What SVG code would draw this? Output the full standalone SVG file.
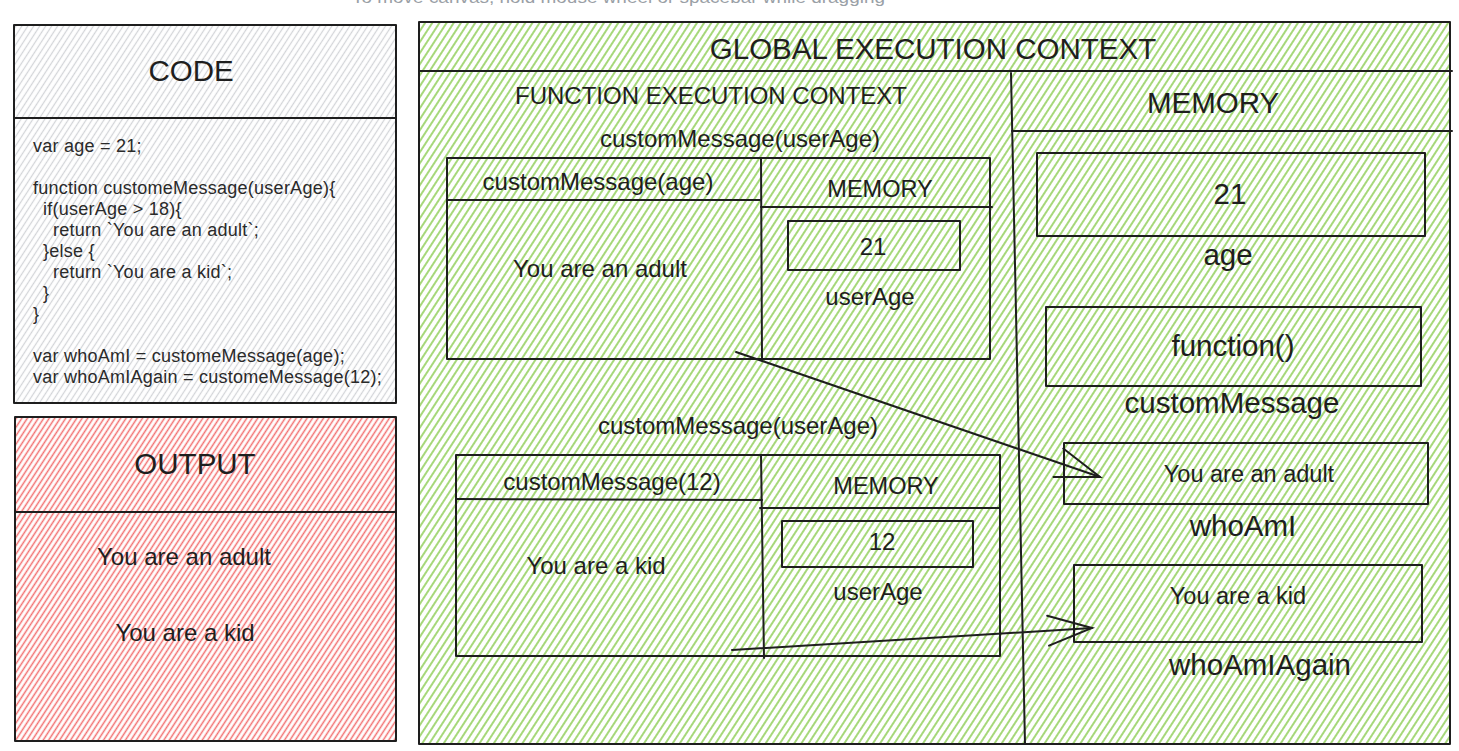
<svg xmlns="http://www.w3.org/2000/svg" width="1459" height="751" viewBox="0 0 1459 751">
<defs>
<pattern id="hg" patternUnits="userSpaceOnUse" width="6" height="10" patternTransform="rotate(33)"><line x1="3" y1="-1" x2="3" y2="11" stroke="#97d163" stroke-width="1.7"/></pattern>
<pattern id="hr" patternUnits="userSpaceOnUse" width="4.6" height="10" patternTransform="rotate(33)"><line x1="2.3" y1="-1" x2="2.3" y2="11" stroke="#f27070" stroke-width="1.5"/></pattern>
<pattern id="hk" patternUnits="userSpaceOnUse" width="5" height="10" patternTransform="rotate(33)"><line x1="2.5" y1="-1" x2="2.5" y2="11" stroke="#d3d5d8" stroke-width="1.3"/></pattern>
<marker id="arr" markerUnits="userSpaceOnUse" markerWidth="50" markerHeight="34" refX="48" refY="16" orient="auto" overflow="visible">
<path d="M4,1 L48,16 L4,31" fill="none" stroke="#1e1e1e" stroke-width="2" stroke-linecap="round"/>
</marker>
</defs>
<style>
.b{fill:none;stroke:#1e1e1e;stroke-width:2;stroke-linecap:round;stroke-linejoin:round}
.t{font-family:"Liberation Sans",Arial,Helvetica,sans-serif;fill:#1e1e1e;text-anchor:middle}
.xl{font-size:29.5px}
.m{font-size:24px}
.s{font-size:23.5px}
.c{font-family:"Liberation Sans",Arial,Helvetica,sans-serif;fill:#2a2a2a;font-size:18px;letter-spacing:0.25px}
.hint{font-family:"Liberation Sans",Arial,sans-serif;fill:#9aa0a6;font-size:17px}
</style>
<rect width="1459" height="751" fill="#ffffff"/>
<text class="hint" x="352" y="3" textLength="533" lengthAdjust="spacingAndGlyphs">To move canvas, hold mouse wheel or spacebar while dragging</text>

<g id="code">
<rect x="14" y="25" width="382" height="378" fill="url(#hk)"/>
<rect class="b" x="14" y="25" width="382" height="378"/>
<line class="b" x1="14" y1="118" x2="396" y2="118"/>
<text class="t xl" x="191" y="80.5">CODE</text>
<text class="c" x="33" y="151.5">var age = 21;</text>
<text class="c" x="33" y="193.5">function customeMessage(userAge){</text>
<text class="c" x="43" y="214.5">if(userAge &gt; 18){</text>
<text class="c" x="53" y="235.5">return `You are an adult`;</text>
<text class="c" x="43" y="256.5">}else {</text>
<text class="c" x="53" y="277.5">return `You are a kid`;</text>
<text class="c" x="43" y="298.5">}</text>
<text class="c" x="33" y="319.5">}</text>
<text class="c" x="33" y="361.5">var whoAmI = customeMessage(age);</text>
<text class="c" x="33" y="382.5">var whoAmIAgain = customeMessage(12);</text>
</g>

<g id="output">
<rect x="15" y="417" width="381" height="324" fill="url(#hr)"/>
<rect class="b" x="15" y="417" width="381" height="324"/>
<line class="b" x1="15" y1="512" x2="396" y2="512"/>
<text class="t xl" x="195" y="473.5">OUTPUT</text>
<text class="t m" x="184" y="564.5">You are an adult</text>
<text class="t m" x="185" y="640.5">You are a kid</text>
</g>

<g id="global">
<rect x="419" y="22" width="1031" height="722" fill="url(#hg)"/>
<rect class="b" x="419" y="22" width="1031" height="722"/>
<line class="b" x1="419" y1="71" x2="1452" y2="71"/>
<line class="b" x1="1011" y1="73" x2="1025" y2="744"/>
<line class="b" x1="1012" y1="131" x2="1452" y2="131"/>
<text class="t xl" x="933" y="58.5">GLOBAL EXECUTION CONTEXT</text>
<text class="t xl" x="1213" y="112.5">MEMORY</text>
<text class="t m" x="711" y="103.5">FUNCTION EXECUTION CONTEXT</text>
<text class="t m" x="740" y="146.5">customMessage(userAge)</text>
<text class="t m" x="738" y="433.5">customMessage(userAge)</text>
</g>

<g id="func1">
<rect class="b" x="447" y="158" width="543" height="201"/>
<line class="b" x1="761" y1="158" x2="762" y2="359"/>
<line class="b" x1="447" y1="200" x2="760" y2="200"/>
<line class="b" x1="761" y1="207" x2="992" y2="207"/>
<rect class="b" x="788" y="221" width="172" height="49"/>
<text class="t m" x="598" y="189.5">customMessage(age)</text>
<text class="t s" x="880" y="196.5">MEMORY</text>
<text class="t m" x="873" y="254.5">21</text>
<text class="t m" x="870" y="304.5">userAge</text>
<text class="t m" x="600" y="276.5">You are an adult</text>
</g>

<g id="func2">
<rect class="b" x="456" y="455" width="544" height="201"/>
<line class="b" x1="761" y1="455" x2="764" y2="658"/>
<line class="b" x1="456" y1="499" x2="762" y2="500"/>
<line class="b" x1="760" y1="508" x2="1000" y2="508"/>
<rect class="b" x="782" y="521" width="191" height="46"/>
<text class="t m" x="612" y="489.5">customMessage(12)</text>
<text class="t s" x="886" y="493.5">MEMORY</text>
<text class="t m" x="882" y="549.5">12</text>
<text class="t m" x="878" y="599.5">userAge</text>
<text class="t m" x="596" y="573.5">You are a kid</text>
</g>

<g id="mem-age">
<rect class="b" x="1037" y="153" width="388" height="83"/>
<text class="t xl" x="1230" y="204">21</text>
<text class="t xl" x="1228" y="265">age</text>
</g>

<g id="mem-customMessage">
<rect class="b" x="1046" y="307" width="375" height="79"/>
<text class="t xl" x="1233" y="356">function()</text>
<text class="t xl" x="1232" y="413">customMessage</text>
</g>

<g id="mem-whoAmI">
<rect class="b" x="1064" y="443" width="364" height="61"/>
<text class="t s" x="1249" y="482">You are an adult</text>
<text class="t xl" x="1243" y="536">whoAmI</text>
</g>

<g id="mem-whoAmIAgain">
<rect class="b" x="1074" y="565" width="348" height="77"/>
<text class="t s" x="1238" y="604">You are a kid</text>
<text class="t xl" x="1260" y="675">whoAmIAgain</text>
</g>

<g id="connectors">
<line class="b" x1="736" y1="352" x2="1100" y2="477" marker-end="url(#arr)"/>
<line class="b" x1="732" y1="650" x2="1092" y2="628" marker-end="url(#arr)"/>
</g>
</svg>
